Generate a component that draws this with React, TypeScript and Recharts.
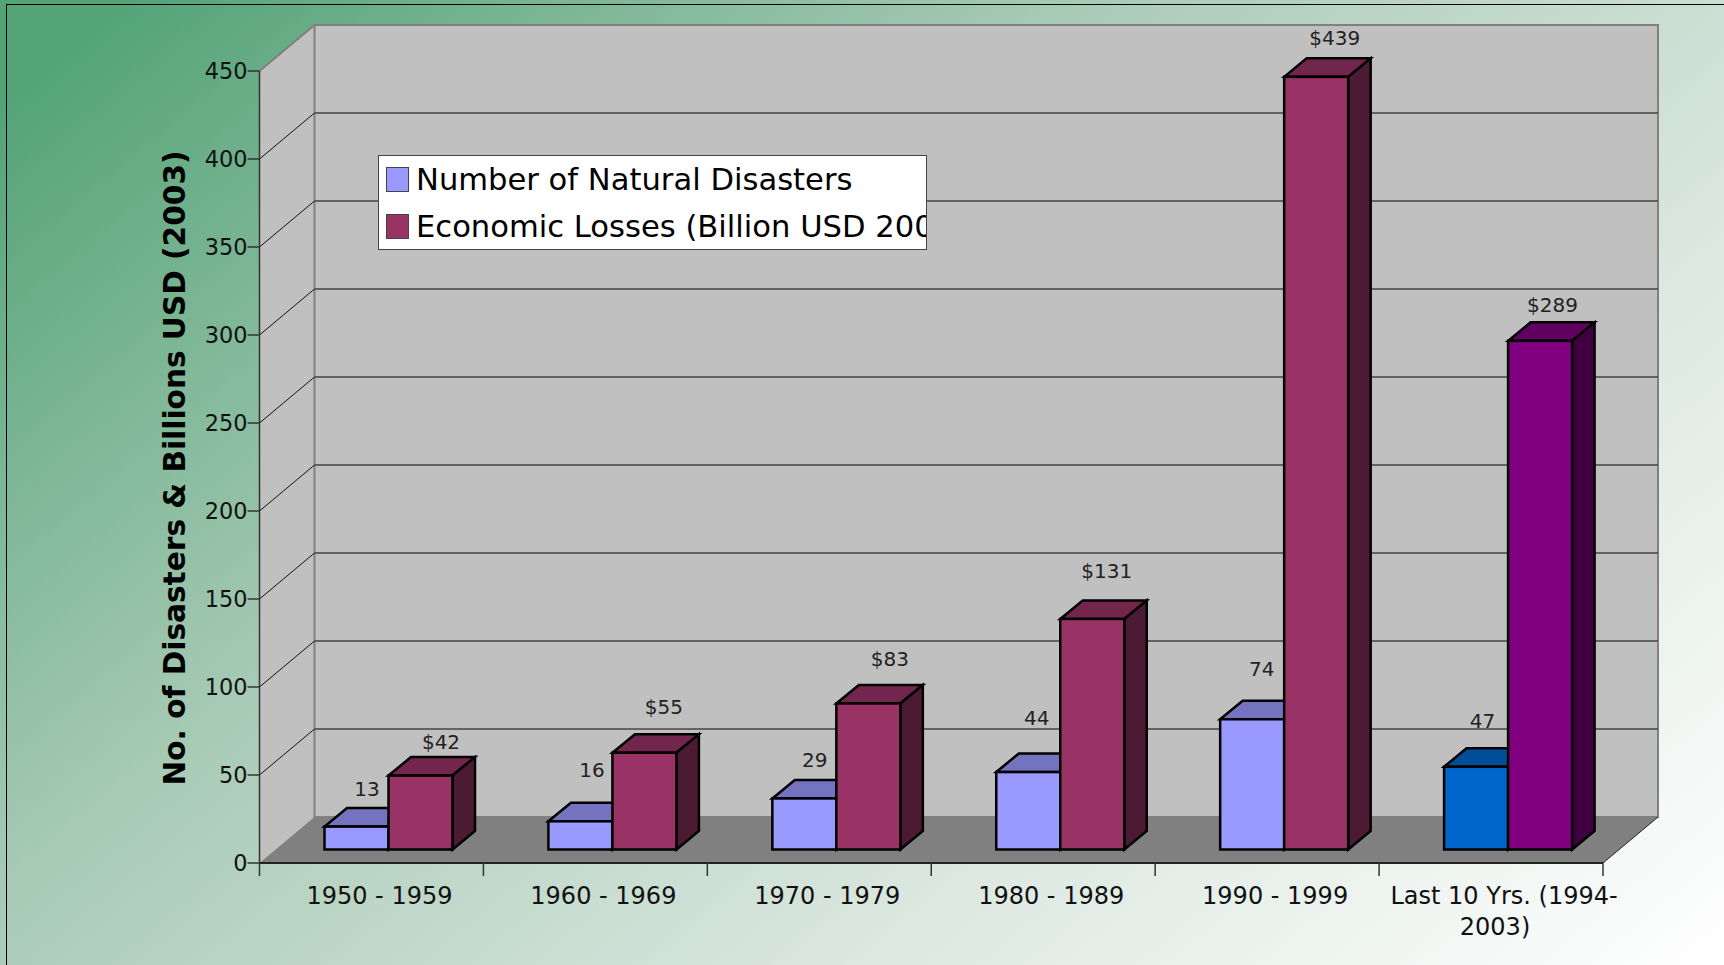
import React from "react";
import {
  BarChart,
  Bar,
  Cell,
  XAxis,
  YAxis,
  CartesianGrid,
  Legend,
  LabelList,
} from "recharts";

const categories = [
  "1950 - 1959",
  "1960 - 1969",
  "1970 - 1979",
  "1980 - 1989",
  "1990 - 1999",
  "Last 10 Yrs. (1994-2003)",
];
const disasterCounts = [13, 16, 29, 44, 74, 47];
const economicLosses = [42, 55, 83, 131, 439, 289];
const yTicks = [0, 50, 100, 150, 200, 250, 300, 350, 400, 450];

// the labels were placed by hand in the original, so each one has its own offset
const countLabelLift = [38, 51, 38, 54, 50, 46];
const lossLabelLift = [34, 46, 44, 48, 39, 36];
const countLabelNudge = [10.5, 11.5, 10.5, 8.5, 9.5, 6.5];
const lossLabelNudge = [20.5, 19.5, 21.5, 14.5, 18.5, 12.5];

const chartData = categories.map((name, i) => ({
  name,
  disasters: disasterCounts[i],
  losses: economicLosses[i],
}));

const FONT = "'DejaVu Sans', Verdana, sans-serif";
const WIDTH = 1724;
const HEIGHT = 965;

// front plane of the plot
const PLOT_LEFT = 259.5;
const PLOT_TOP = 71;
const PLOT_RIGHT = 1603;
const PLOT_BOTTOM = 863;

// 3D look: wall depth, and where the bars sit inside that depth
const WALL_DX = 55;
const WALL_DY = 46;
const BAR_SHIFT_X = 17;
const BAR_SHIFT_Y = 13.5;
const BAR_DX = 22.5;
const BAR_DY = 18.5;

const shade = (hex: string, f: number) => {
  const n = parseInt(hex.slice(1), 16);
  const c = [n >> 16, (n >> 8) & 255, n & 255].map((v) => Math.round(v * f));
  return `rgb(${c[0]},${c[1]},${c[2]})`;
};

// walls and floor sit in their own svg behind the chart so the grid stays on top of them
const Walls = () => {
  const x = PLOT_LEFT;
  const y = PLOT_TOP;
  const r = PLOT_RIGHT;
  const b = PLOT_BOTTOM;
  return (
    <svg width={WIDTH} height={HEIGHT} style={{ position: "absolute", left: 0, top: 0 }}>
      <polygon
        points={`${x},${y} ${x + WALL_DX},${y - WALL_DY} ${x + WALL_DX},${b - WALL_DY} ${x},${b}`}
        fill="#C0C0C0"
      />
      <rect
        x={x + WALL_DX}
        y={y - WALL_DY}
        width={r - x}
        height={b - y}
        fill="#C0C0C0"
        stroke="#808080"
        strokeWidth={2}
      />
      <polygon
        points={`${x},${b} ${r},${b} ${r + WALL_DX},${b - WALL_DY} ${x + WALL_DX},${b - WALL_DY}`}
        fill="#808080"
      />
      <line x1={x} y1={y} x2={x + WALL_DX} y2={y - WALL_DY} stroke="#808080" strokeWidth={2} />
      <line x1={r} y1={b} x2={r + WALL_DX} y2={b - WALL_DY} stroke="#222" strokeWidth={1} />
    </svg>
  );
};

const GridLine = (props: any) => {
  const { x1, x2, y1, y2 } = props;
  if (y1 <= PLOT_TOP + 1 || y1 >= PLOT_BOTTOM - 1) return <g />;
  return (
    <g>
      <line x1={x1} y1={y1} x2={x1 + WALL_DX} y2={y1 - WALL_DY} stroke="#111" strokeWidth={1} />
      <line x1={x1 + WALL_DX} y1={y2 - WALL_DY} x2={x2 + WALL_DX} y2={y2 - WALL_DY} stroke="#444" strokeWidth={1.5} />
    </g>
  );
};

const Box3D = (props: any) => {
  const { x, y, width, height, fill } = props;
  const l = x + BAR_SHIFT_X;
  const t = y - BAR_SHIFT_Y;
  const r = l + width;
  const b = t + height;
  return (
    <g stroke="#000" strokeWidth={2.5} strokeLinejoin="miter">
      <polygon
        points={`${l},${t} ${l + BAR_DX},${t - BAR_DY} ${r + BAR_DX},${t - BAR_DY} ${r},${t}`}
        fill={shade(fill, 0.75)}
      />
      <polygon
        points={`${r},${t} ${r + BAR_DX},${t - BAR_DY} ${r + BAR_DX},${b - BAR_DY} ${r},${b}`}
        fill={shade(fill, 0.5)}
      />
      <rect x={l} y={t} width={width} height={height} fill={fill} />
    </g>
  );
};

const makeValueLabel = (lift: number[], nudge: number[], prefix: string) => (props: any) => {
  const { x, y, width, index, value } = props;
  return (
    <text
      x={x + width / 2 + BAR_SHIFT_X + nudge[index]}
      y={y - BAR_SHIFT_Y - lift[index]}
      textAnchor="middle"
      dominantBaseline="central"
      fontFamily={FONT}
      fontSize={20}
      fill="#222"
    >
      {prefix}
      {value}
    </text>
  );
};

const CategoryTick = (props: any) => {
  const { x, payload, index } = props;
  const half = payload.offset ?? 112;
  const label: string = payload.value;
  const cut = label.lastIndexOf("-") + 1;
  const lines = label.length > 12 ? [label.slice(0, cut), label.slice(cut)] : [label];
  return (
    <g>
      <line x1={x - half} y1={PLOT_BOTTOM} x2={x - half} y2={PLOT_BOTTOM + 13} stroke="#333" strokeWidth={1.5} />
      {index === categories.length - 1 && (
        <line x1={x + half} y1={PLOT_BOTTOM} x2={x + half} y2={PLOT_BOTTOM + 13} stroke="#333" strokeWidth={1.5} />
      )}
      {lines.map((line, i) => (
        <text
          key={line}
          x={x + (lines.length > 1 ? (i === 0 ? 13 : 4) : 8)}
          y={PLOT_BOTTOM + 33 + i * 31}
          textAnchor="middle"
          dominantBaseline="central"
          fontFamily={FONT}
          fontSize={24}
          fill="#111"
        >
          {line}
        </text>
      ))}
    </g>
  );
};

const LegendBox = ({ payload }: any) => (
  <div
    style={{
      width: 549,
      height: 95,
      boxSizing: "border-box",
      background: "#fff",
      border: "1.5px solid #444",
      overflow: "hidden",
      whiteSpace: "nowrap",
      fontFamily: FONT,
      fontSize: 30.6,
      color: "#000",
    }}
  >
    {(payload || []).map((entry: any) => (
      <div key={entry.value} style={{ display: "flex", alignItems: "center", height: 47, marginLeft: 7 }}>
        <span
          style={{
            display: "inline-block",
            width: 23,
            height: 25,
            boxSizing: "border-box",
            background: entry.color,
            border: "1.5px solid #444",
            marginRight: 7,
            flex: "none",
          }}
        />
        {entry.value}
      </div>
    ))}
  </div>
);

export default function App() {
  return (
    <div
      style={{
        position: "absolute",
        left: 0,
        top: 0,
        width: WIDTH,
        height: HEIGHT,
        overflow: "hidden",
        background: "linear-gradient(140deg, #53A377 0%, #53A377 4%, #A9CBB6 38%, #DCE8E1 70%, #FFFFFF 100%)",
      }}
    >
      {/* border of the slide shows only on the top and left */}
      <div style={{ position: "absolute", left: 6, top: 4, right: -4, bottom: -4, borderLeft: "1.5px solid #000", borderTop: "1.5px solid #000" }} />
      <Walls />
      <BarChart
        width={WIDTH}
        height={HEIGHT}
        data={chartData}
        margin={{ top: PLOT_TOP, right: WIDTH - PLOT_RIGHT, left: PLOT_LEFT - 100, bottom: HEIGHT - PLOT_BOTTOM - 60 }}
        barCategoryGap={48}
        barGap={0}
        style={{ position: "absolute", left: 0, top: 0 }}
      >
        <CartesianGrid vertical={false} horizontal={GridLine as any} />
        <XAxis
          dataKey="name"
          height={60}
          interval={0}
          tickLine={false}
          axisLine={{ stroke: "#222", strokeWidth: 2 }}
          tick={<CategoryTick />}
        />
        <YAxis
          width={100}
          domain={[0, 450]}
          ticks={yTicks}
          interval={0}
          tickSize={12}
          tickMargin={0}
          axisLine={{ stroke: "#333", strokeWidth: 1.5 }}
          tickLine={{ stroke: "#333", strokeWidth: 1.5 }}
          tick={{ fontFamily: FONT, fontSize: 22.4, fill: "#111" }}
          label={{
            value: "No. of Disasters & Billions USD (2003)",
            angle: -90,
            position: "insideLeft",
            offset: 15,
            dy: 1,
            style: { fontFamily: FONT, fontSize: 29.6, fontWeight: "bold", fill: "#000", textAnchor: "middle" },
          }}
        />
        <Legend
          layout="vertical"
          align="center"
          verticalAlign="middle"
          itemSorter={null}
          content={<LegendBox />}
          wrapperStyle={{ position: "absolute", left: 378, top: 155, width: 549, height: 95 }}
        />
        <Bar dataKey="disasters" name="Number of Natural Disasters" fill="#9999FF" shape={<Box3D />} isAnimationActive={false}>
          {categories.map((c, i) => (
            <Cell key={c} fill={i === categories.length - 1 ? "#0066CC" : "#9999FF"} />
          ))}
          <LabelList dataKey="disasters" content={makeValueLabel(countLabelLift, countLabelNudge, "")} />
        </Bar>
        <Bar dataKey="losses" name="Economic Losses (Billion USD 2003)" fill="#993366" shape={<Box3D />} isAnimationActive={false}>
          {categories.map((c, i) => (
            <Cell key={c} fill={i === categories.length - 1 ? "#800080" : "#993366"} />
          ))}
          <LabelList dataKey="losses" content={makeValueLabel(lossLabelLift, lossLabelNudge, "$")} />
        </Bar>
      </BarChart>
    </div>
  );
}
